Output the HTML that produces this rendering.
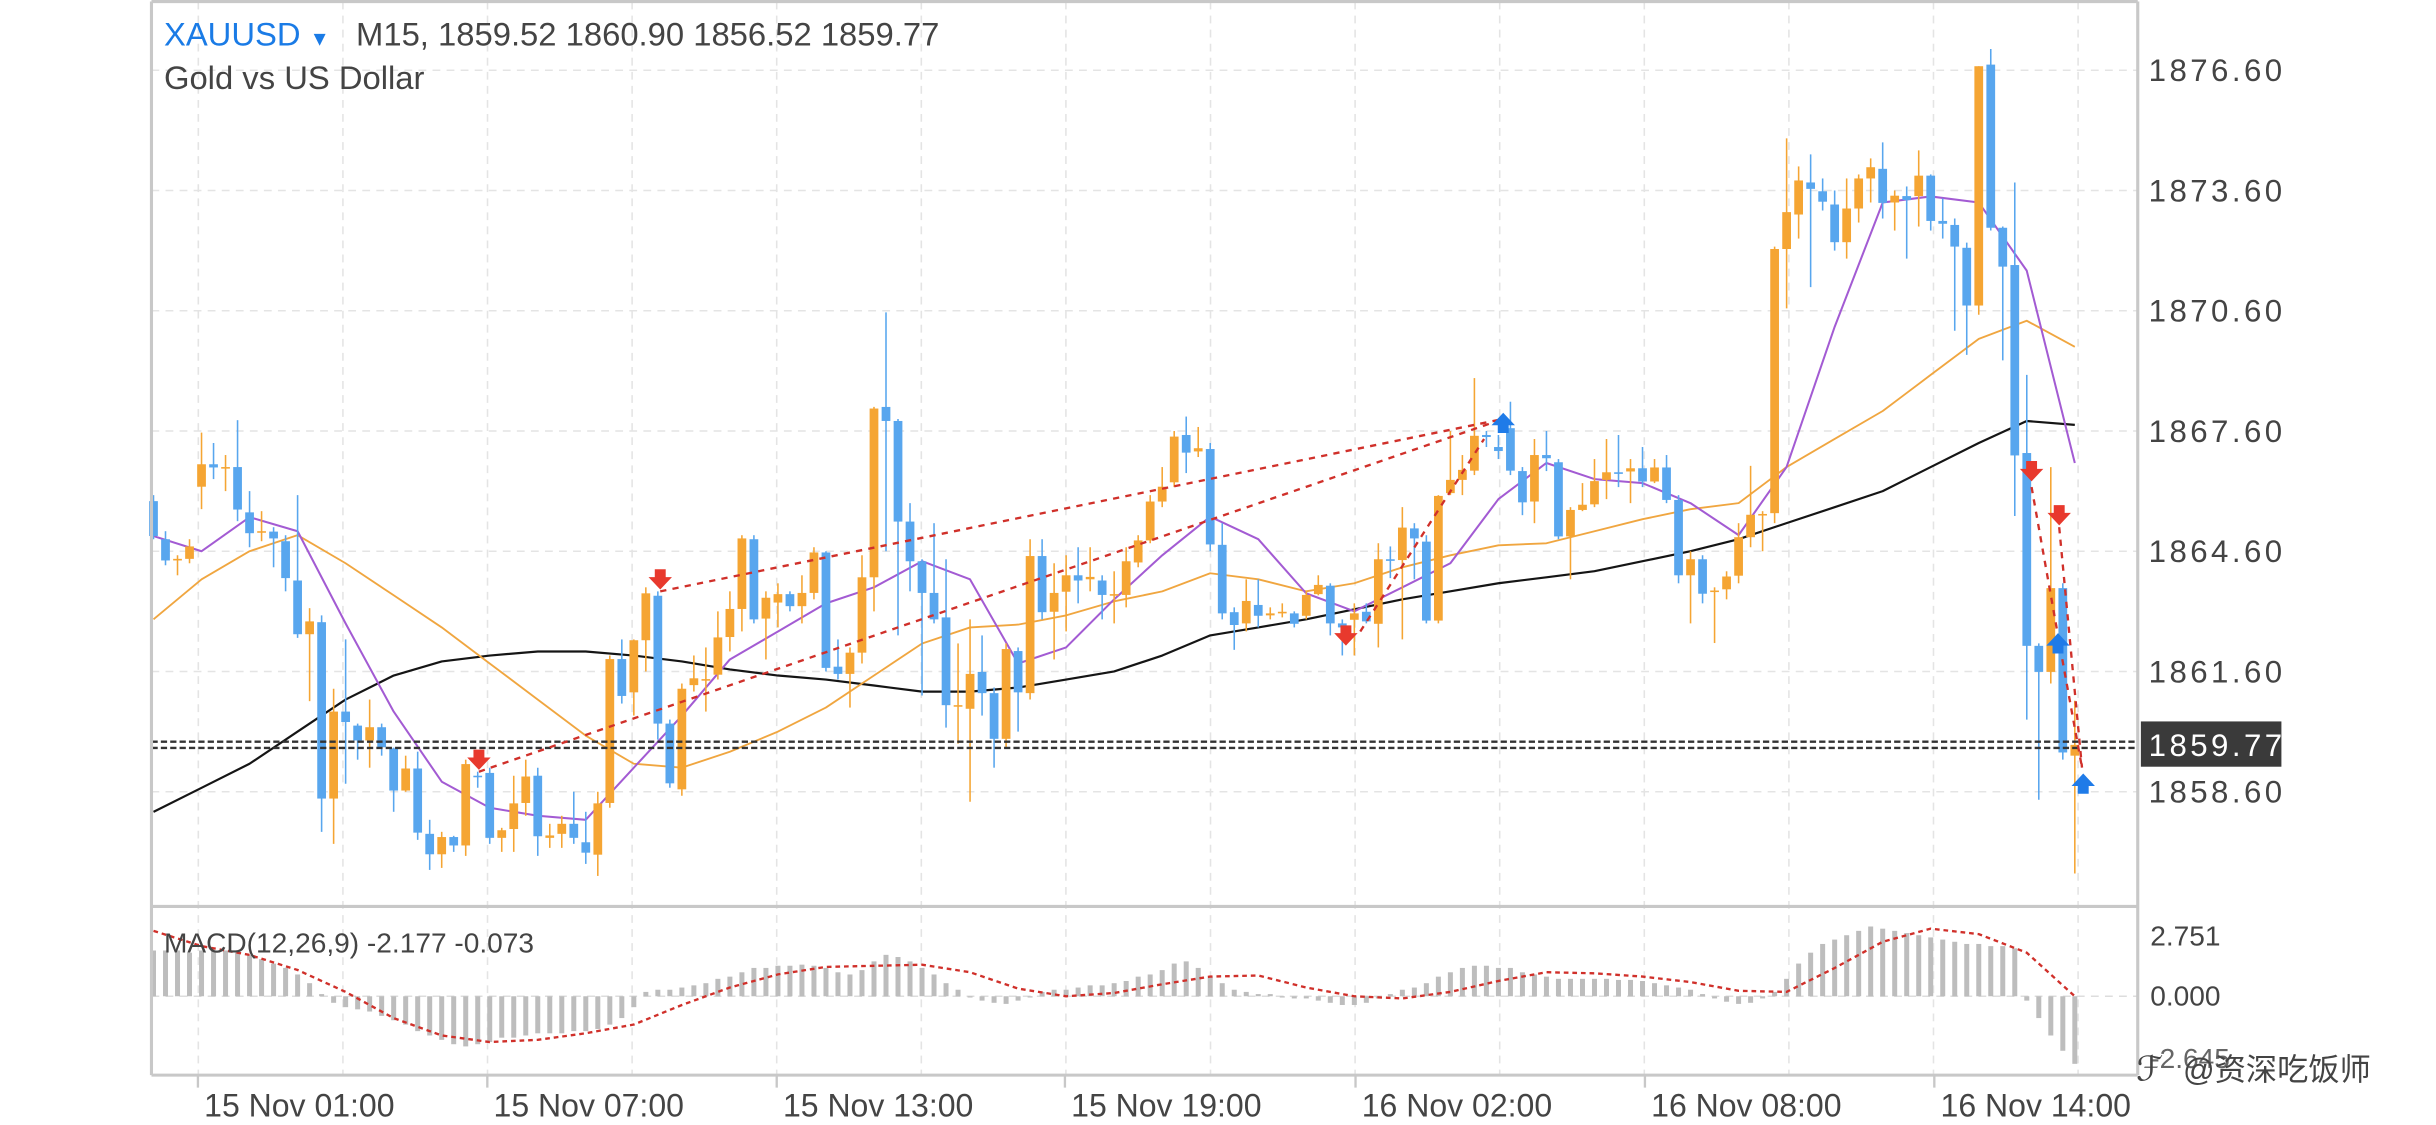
<!DOCTYPE html>
<html><head><meta charset="utf-8">
<style>
html,body{margin:0;padding:0;background:#fff;}
svg{display:block;}
text{font-family:"Liberation Sans","Noto Sans CJK SC",sans-serif;}
</style></head>
<body>
<svg id="chart" xmlns="http://www.w3.org/2000/svg" width="2436" height="1125" viewBox="0 0 1560 720.44" preserveAspectRatio="none">
  <rect x="0" y="0" width="1560" height="720.44" fill="#fff"/>
  <g id="grid"></g>
  <g id="macd"></g>
  <g id="mas"></g>
  <g id="candles"></g>
  <g id="annot"></g>
  <g id="axes"></g>
  <text x="105" y="29" font-size="21" fill="#1a7be6">XAUUSD <tspan font-size="13">▼</tspan></text>
  <text x="228" y="29" font-size="21" fill="#444">M15, 1859.52 1860.90 1856.52 1859.77</text>
  <text x="105" y="57" font-size="21" fill="#444">Gold vs US Dollar</text>
  <text x="105" y="610" font-size="18" fill="#444">MACD(12,26,9) -2.177 -0.073</text>
</svg>
<script>
const opens=[1865.85,1864.9,1864.37,1864.41,1866.21,1866.77,1866.7,1866.7,1865.57,1865.1,
1865.09,1864.85,1863.87,1862.53,1862.83,1858.43,1860.6,1860.25,1859.88,1860.21,
1859.68,1858.63,1859.18,1857.55,1857.04,1857.47,1857.26,1859.0,1859.07,1857.45,
1857.67,1858.32,1859.0,1857.45,1857.55,1857.8,1857.34,1857.03,1858.32,1861.91,
1861.08,1862.38,1863.49,1860.3,1858.66,1861.26,1861.4,1861.52,1862.46,1863.16,
1864.9,1862.92,1863.32,1863.53,1863.23,1863.56,1864.57,1861.72,1861.54,1862.07,
1863.95,1868.2,1867.85,1865.34,1864.35,1863.56,1862.95,1860.76,1860.67,1861.59,
1861.06,1859.92,1862.11,1861.06,1864.48,1863.09,1863.59,1864.0,1863.9,1863.87,
1863.5,1863.51,1864.32,1864.87,1865.84,1866.32,1867.5,1867.09,1867.15,1864.76,
1863.08,1862.8,1863.26,1863.0,1863.05,1863.05,1862.99,1863.53,1863.74,1862.8,
1862.89,1863.09,1862.79,1864.4,1864.38,1865.17,1864.84,1862.87,1866.05,1866.38,
1866.61,1867.5,1867.2,1867.67,1866.6,1865.84,1867.0,1866.82,1864.97,1865.63,
1865.77,1866.38,1866.57,1866.59,1866.67,1866.34,1866.69,1865.88,1864.0,1864.4,
1863.6,1863.65,1863.99,1864.95,1865.5,1865.55,1872.14,1873.0,1873.8,1873.58,
1873.25,1872.31,1873.15,1873.9,1874.14,1873.3,1873.46,1873.46,1873.97,1872.84,
1872.74,1872.17,1870.73,1876.74,1872.67,1871.74,1867.05,1862.24,1861.59,1863.68,
1859.5];
const closes=[1864.98,1864.37,1864.41,1864.72,1866.77,1866.69,1866.7,1865.64,1865.05,1865.1,
1864.92,1863.93,1862.53,1862.85,1858.43,1860.6,1860.34,1859.88,1860.21,1859.71,
1858.63,1859.18,1857.58,1857.04,1857.47,1857.26,1859.29,1858.98,1857.45,1857.64,
1858.31,1858.98,1857.49,1857.51,1857.8,1857.45,1857.08,1858.31,1861.91,1860.99,
1862.38,1863.55,1860.3,1858.81,1861.17,1861.43,1861.41,1862.45,1863.16,1864.92,
1862.9,1863.44,1863.53,1863.23,1863.56,1864.57,1861.69,1861.54,1862.07,1863.95,
1868.16,1867.85,1865.34,1864.35,1863.56,1862.9,1860.76,1860.76,1861.54,1861.06,
1859.92,1862.16,1861.08,1864.48,1863.08,1863.56,1864.0,1863.87,1863.96,1863.51,
1863.53,1864.35,1864.87,1865.84,1866.21,1867.46,1867.06,1867.17,1864.77,1863.05,
1862.76,1863.36,1862.99,1863.05,1863.09,1862.79,1863.51,1863.76,1862.8,1862.7,
1863.05,1862.85,1864.4,1864.36,1865.19,1864.92,1862.87,1865.98,1866.38,1866.63,
1867.48,1867.45,1867.1,1866.61,1865.82,1867.0,1866.92,1864.97,1865.63,1865.76,
1866.35,1866.57,1866.53,1866.67,1866.34,1866.69,1865.88,1864.0,1864.4,1863.54,
1863.62,1863.97,1864.95,1865.51,1865.53,1872.14,1873.06,1873.85,1873.64,1873.32,
1872.31,1873.15,1873.9,1874.18,1873.29,1873.47,1873.36,1873.97,1872.84,1872.77,
1872.2,1870.73,1876.7,1872.67,1871.7,1866.99,1862.24,1861.59,1863.68,1859.58,
1859.77];
const highs=[1866.0,1865.1,1864.5,1864.9,1867.56,1867.3,1867.0,1867.87,1866.1,1865.6,
1865.2,1865.0,1866.0,1863.18,1863.0,1861.17,1862.4,1860.3,1860.9,1860.3,
1859.7,1859.5,1859.6,1857.9,1857.6,1857.5,1859.4,1859.1,1859.2,1857.7,
1859.0,1859.4,1859.2,1857.8,1858.0,1858.6,1858.1,1858.6,1862.0,1862.4,
1862.4,1863.7,1863.6,1860.4,1861.3,1862.0,1862.2,1863.1,1863.6,1865.0,
1865.0,1863.6,1863.8,1863.6,1864.0,1864.7,1864.6,1862.4,1862.2,1864.5,
1868.2,1870.56,1867.9,1865.8,1864.4,1865.3,1864.4,1862.3,1862.9,1862.5,
1861.2,1862.3,1862.2,1864.9,1864.9,1864.3,1864.5,1864.7,1864.7,1864.0,
1864.1,1864.7,1865.0,1866.0,1866.7,1867.6,1867.96,1867.7,1867.3,1865.3,
1863.2,1863.9,1863.9,1863.2,1863.3,1863.1,1863.6,1864.0,1863.8,1862.9,
1863.3,1863.3,1864.8,1864.72,1865.7,1865.3,1865.0,1866.0,1867.6,1867.0,
1868.92,1867.6,1867.5,1868.33,1866.7,1867.4,1867.6,1866.9,1865.7,1866.3,
1866.9,1867.4,1867.5,1866.9,1867.2,1866.9,1867.0,1866.0,1864.6,1864.5,
1863.7,1864.1,1865.3,1866.73,1865.6,1872.2,1874.9,1874.2,1874.5,1873.9,
1873.6,1873.9,1874.0,1874.4,1874.8,1873.6,1873.7,1874.6,1874.0,1873.4,
1872.9,1872.3,1876.7,1877.13,1872.7,1873.8,1869.0,1862.3,1866.7,1863.8,
1860.87];
const lows=[1864.9,1864.25,1864.0,1864.3,1865.65,1866.4,1866.1,1865.35,1864.7,1864.85,
1864.2,1863.6,1862.44,1860.86,1857.6,1857.3,1858.8,1859.4,1859.2,1859.5,
1858.1,1858.6,1857.4,1856.65,1856.7,1857.1,1857.0,1858.7,1857.3,1857.1,
1857.1,1858.0,1857.0,1857.2,1857.2,1857.3,1856.8,1856.5,1858.2,1860.8,
1860.5,1861.6,1859.9,1858.7,1858.5,1861.1,1860.6,1861.4,1862.1,1862.6,
1862.8,1861.9,1862.7,1863.1,1862.8,1863.4,1861.6,1861.4,1860.7,1861.8,
1863.1,1864.6,1862.5,1863.6,1861.0,1862.8,1860.2,1859.8,1858.35,1860.5,
1859.2,1859.7,1860.1,1860.9,1862.9,1861.9,1862.6,1863.3,1863.6,1862.9,
1862.8,1863.2,1864.2,1864.8,1865.7,1866.2,1866.55,1866.95,1864.6,1862.9,
1862.14,1862.6,1862.7,1862.9,1862.95,1862.7,1862.9,1863.5,1862.5,1862.0,
1862.0,1862.8,1862.2,1863.93,1862.4,1863.9,1862.8,1862.8,1866.0,1866.0,
1866.5,1867.2,1866.9,1866.5,1865.5,1865.3,1866.6,1864.9,1863.9,1865.6,
1865.7,1865.9,1866.2,1865.8,1866.2,1866.3,1865.8,1863.8,1862.8,1863.3,
1862.31,1863.4,1863.8,1864.7,1864.6,1865.3,1870.66,1872.4,1871.19,1873.1,
1872.1,1871.9,1872.8,1873.3,1872.9,1872.6,1871.9,1872.7,1872.6,1872.4,
1870.1,1869.5,1870.5,1872.6,1869.36,1865.48,1860.4,1858.4,1861.3,1859.4,
1856.56];
// moving averages sampled every 4 bars
const maFast=[1864.98,1864.6,1865.45,1865.1,1862.8,1860.6,1858.85,1858.2,1858.0,1857.9,
1859.2,1860.5,1861.9,1862.6,1863.3,1863.7,1864.35,1863.9,1861.8,1862.2,
1863.4,1864.5,1865.46,1864.9,1863.55,1863.1,1863.7,1864.3,1865.9,1866.8,
1866.4,1866.3,1865.8,1865.0,1866.7,1870.2,1873.3,1873.45,1873.3,1871.6,1866.8];
const maMid=[1862.9,1863.9,1864.6,1865.0,1864.3,1863.5,1862.7,1861.8,1860.9,1860.0,
1859.3,1859.2,1859.6,1860.1,1860.7,1861.5,1862.3,1862.7,1862.77,1863.0,
1863.35,1863.6,1864.05,1863.9,1863.6,1863.8,1864.2,1864.5,1864.75,1864.8,
1865.1,1865.4,1865.65,1865.8,1866.7,1867.4,1868.1,1869.0,1869.9,1870.35,1869.7];
const maSlow=[1858.1,1858.7,1859.3,1860.1,1860.9,1861.5,1861.85,1862.0,1862.1,1862.1,
1862.0,1861.85,1861.65,1861.5,1861.4,1861.25,1861.1,1861.1,1861.2,1861.4,
1861.6,1862.0,1862.5,1862.7,1862.9,1863.15,1863.4,1863.6,1863.8,1863.95,
1864.1,1864.35,1864.6,1864.9,1865.3,1865.7,1866.1,1866.7,1867.3,1867.85,1867.75];
const macdHist=[2.1,2.1,2.1,2.0,2.1,2.1,2.1,2.0,1.9,1.7,
1.5,1.3,1.0,0.6,0.1,-0.3,-0.5,-0.6,-0.7,-0.9,
-1.1,-1.3,-1.6,-1.8,-2.0,-2.2,-2.3,-2.2,-2.1,-1.9,
-1.9,-1.8,-1.7,-1.7,-1.7,-1.6,-1.6,-1.5,-1.3,-1.0,
-0.5,0.2,0.3,0.3,0.4,0.5,0.6,0.8,0.9,1.1,
1.3,1.3,1.4,1.4,1.45,1.4,1.3,1.1,1.0,1.2,
1.6,1.9,1.8,1.6,1.3,1.0,0.6,0.3,0.0,-0.2,
-0.3,-0.35,-0.2,0.0,0.2,0.3,0.3,0.4,0.5,0.5,
0.6,0.7,0.9,1.0,1.2,1.5,1.6,1.3,0.9,0.6,
0.3,0.2,0.1,0.1,0.0,-0.1,-0.1,-0.2,-0.3,-0.4,
-0.4,-0.3,-0.1,0.1,0.3,0.4,0.6,0.9,1.1,1.3,
1.4,1.4,1.3,1.3,1.1,1.0,0.9,0.8,0.8,0.8,
0.8,0.8,0.75,0.75,0.7,0.6,0.5,0.4,0.3,0.1,
-0.1,-0.25,-0.35,-0.3,-0.1,0.2,0.8,1.5,2.0,2.4,
2.6,2.8,3.0,3.2,3.1,3.0,2.9,2.8,2.7,2.6,
2.5,2.4,2.4,2.3,2.3,2.2,-0.2,-1.0,-1.8,-2.5,-3.1];
const macdSignal=[3.0,2.3,1.9,1.2,0.2,-1.0,-1.8,-2.1,-2.0,-1.7,
-1.3,-0.4,0.4,1.0,1.35,1.4,1.45,1.1,0.35,0.0,
0.15,0.55,0.9,0.95,0.4,0.0,-0.1,0.2,0.7,1.1,
1.05,0.9,0.65,0.25,0.2,1.3,2.5,3.1,2.85,2.0,0.0];
const priceTicks=[1876.60,1873.60,1870.60,1867.60,1864.60,1861.60,1858.60];
const timeLabels=["15 Nov 01:00","15 Nov 07:00","15 Nov 13:00","15 Nov 19:00","16 Nov 02:00","16 Nov 08:00","16 Nov 14:00"];
const timeLabelBars=[3.7,27.8,51.9,75.9,100.1,124.2,148.3];
const macdTicks=[2.751,0.000];
const lastPrice=1859.77;
const downArrows=[[27.1,1859.3],[42.2,1863.8],[99.3,1862.4],[156.4,1866.5],[158.7,1865.4]];
const upArrows=[[112.4,1867.9],[158.6,1862.4],[160.7,1858.9]];
const trendLines=[[[27.1,1859.1],[112.4,1867.9]],[[42.2,1863.6],[112.4,1867.9]],[[100.5,1862.6],[110.8,1867.4]],
 [[156.4,1866.2],[158.6,1862.5],[160.6,1859.2]],[[158.7,1865.2],[160.6,1859.2]]];

const NS="http://www.w3.org/2000/svg";
const L=97,R=1369,TOP=1,MAINB=580.5,MB=688.5;
const xb=i=>98.3+7.69*i;
const yp=p=>276+(1867.6-p)*25.67;
const ym=v=>638-v*13.96;
function mk(tag,attrs,parent){const e=document.createElementNS(NS,tag);for(const k in attrs)e.setAttribute(k,attrs[k]);parent.appendChild(e);return e;}
const grid=document.getElementById('grid'),cg=document.getElementById('candles'),mg=document.getElementById('mas'),
 ag=document.getElementById('annot'),ax=document.getElementById('axes'),mc=document.getElementById('macd');

for(let k=0;k<14;k++){const gx=127+92.6*k;if(gx>R-5)break;
 const l=mk('line',{x1:gx,y1:TOP,x2:gx,y2:MB,stroke:'#e4e4e4','stroke-width':1,'stroke-dasharray':'5,4'},grid);
 }
priceTicks.forEach(p=>{const l=mk('line',{x1:L,y1:yp(p),x2:R,y2:yp(p),stroke:'#e4e4e4','stroke-width':1,'stroke-dasharray':'5,4'},grid);
 });
{const l=mk('line',{x1:L,y1:ym(0),x2:R,y2:ym(0),stroke:'#ddd','stroke-width':1,'stroke-dasharray':'5,4'},grid);
 }

macdHist.forEach((v,i)=>{const y0=ym(0),y1=ym(v);
 const r=mk('rect',{x:xb(i)-1.6,y:Math.min(y0,y1),width:3.2,height:Math.max(0.8,Math.abs(y1-y0)),fill:'#bdbdbd'},mc);
 });
{const pts=macdSignal.map((v,k)=>xb(k*4).toFixed(1)+','+ym(v).toFixed(1)).join(' ');
 const s=mk('polyline',{points:pts,fill:'none',stroke:'#d0302a','stroke-width':1.5,'stroke-dasharray':'3,2.5'},mc);
 }

function maLine(arr,step,color,w,name){const pts=arr.map((v,k)=>xb(k*step).toFixed(1)+','+yp(v).toFixed(1)).join(' ');
 const p=mk('polyline',{points:pts,fill:'none',stroke:color,'stroke-width':w,'stroke-linejoin':'round'},mg);
 }
maLine(maSlow,4,'#151515',1.4,'ma-slow-line');
maLine(maMid,4,'#f0a640',1.2,'ma-mid-line');
maLine(maFast,4,'#a35bd3',1.3,'ma-fast-line');

opens.forEach((o,i)=>{const c=closes[i],up=c>=o,col=up?'#f5a533':'#58a6ee',x=xb(i);
 const w=mk('line',{x1:x,y1:yp(highs[i]),x2:x,y2:yp(lows[i]),stroke:col,'stroke-width':1},cg);
 
 const top=yp(Math.max(o,c)),bot=yp(Math.min(o,c));
 const b=mk('rect',{x:x-2.8,y:top,width:5.6,height:Math.max(1,bot-top),fill:col},cg);
 });

[-2,2].forEach(d=>{const l=mk('line',{x1:L,y1:yp(lastPrice)+d,x2:R,y2:yp(lastPrice)+d,stroke:'#333','stroke-width':1.5,'stroke-dasharray':'4,2'},ag);
 });

trendLines.forEach(tl=>{const pts=tl.map(p=>xb(p[0]).toFixed(1)+','+yp(p[1]).toFixed(1)).join(' ');
 const p=mk('polyline',{points:pts,fill:'none',stroke:'#d0302a','stroke-width':1.5,'stroke-dasharray':'4,4'},ag);
 });
downArrows.forEach(a=>{const x=xb(a[0]),y=yp(a[1]);
 const p=mk('path',{d:`M${x-3.5},${y-9} h7 v5 h4 l-7.5,8 l-7.5,-8 h4 z`,fill:'#e8392d'},ag);
 });
upArrows.forEach(a=>{const x=xb(a[0]),y=yp(a[1]);
 const p=mk('path',{d:`M${x-3.5},${y+9} h7 v-5 h4 l-7.5,-8 l-7.5,8 h4 z`,fill:'#1f7be8'},ag);
 });

[[L,TOP,L,MB],[L,TOP,R,TOP],[R,TOP,R,MB],[L,MAINB,R,MAINB],[L,MB,R,MB]].forEach(s=>{
 const l=mk('line',{x1:s[0],y1:s[1],x2:s[2],y2:s[3],stroke:'#c8c8c8','stroke-width':2},ax);
 });
priceTicks.forEach(p=>{const t=mk('text',{x:1376,y:yp(p)+7,'font-size':20,fill:'#444','letter-spacing':'2.2'},ax);
 t.textContent=p.toFixed(2);});
{const r=mk('rect',{x:1371,y:yp(lastPrice)-15,width:90,height:29,fill:'#3a3a3a'},ax);
 
 const t=mk('text',{x:1376,y:yp(lastPrice)+7,'font-size':20,fill:'#fff','letter-spacing':'2.2'},ax);
 t.textContent=lastPrice.toFixed(2);}
macdTicks.forEach(v=>{const t=mk('text',{x:1377,y:ym(v)+6,'font-size':18,fill:'#444'},ax);
 t.textContent=v.toFixed(3);});
{const t=mk('text',{x:1377,y:684,'font-size':18,fill:'#666'},ax);t.textContent='-2.645';
 }
timeLabelBars.forEach((b,k)=>{const x=xb(b);
 const tk=mk('line',{x1:x,y1:MB,x2:x,y2:MB+8,stroke:'#c8c8c8','stroke-width':1.5},ax);
 
 const t=mk('text',{x:x+4,y:715,'font-size':20.5,fill:'#444'},ax);t.textContent=timeLabels[k];
 });
{const c=mk('text',{x:1368,y:692,'font-size':22,fill:'#444'},ax);c.textContent='ℱ';
 
 const t=mk('text',{x:1398,y:692,'font-size':20,fill:'#444'},ax);t.textContent='@资深吃饭师';
 }
</script>
</body></html>
